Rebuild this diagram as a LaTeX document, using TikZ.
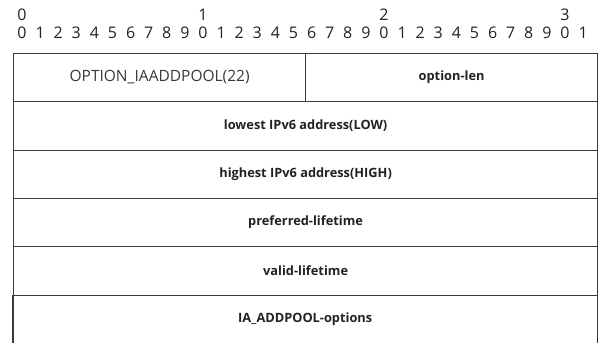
\documentclass[tikz,border=0pt]{standalone}
\usepackage{fontspec}
\setmainfont{Open Sans}
\definecolor{ink}{HTML}{222222}
\definecolor{rule}{HTML}{3A3A3A}
\begin{document}
\begin{tikzpicture}[x=1pt,y=-1pt,
  digit/.style={font=\fontsize{16}{16}\selectfont, text=ink, inner sep=0pt, anchor=center},
  field/.style={draw=rule, line width=1.2pt, inner sep=0pt, text=ink, font=\fontsize{12.8}{12.8}\selectfont\bfseries},
  plainfield/.style={field, font=\fontsize{15.5}{15.5}\selectfont, text=ink!90}]
\useasboundingbox (0,0) rectangle (604,343);
% bit ruler
\foreach \i/\d in {0/0,10/1,20/2,30/3}
  \node[digit] (t\i) at ({22+18.1*\i},15) {\d};
\foreach \i in {0,...,31}{
  \pgfmathtruncatemacro{\d}{mod(\i,10)}
  \node[digit] (b\i) at ({22+18.1*\i},33) {\d};
}
% fields
\node[plainfield, minimum width=292pt, minimum height=48pt, anchor=north west] (opt) at (13,53) {OPTION\_IAADDPOOL(22)};
\node[field, minimum width=292pt, minimum height=48pt, anchor=north west] (len) at (305,53) {option-len};
\node[field, minimum width=584pt, minimum height=49pt, anchor=north west] (low) at (13,101) {lowest IPv6 address(LOW)};
\node[field, minimum width=584pt, minimum height=48pt, anchor=north west] (high) at (13,150) {highest IPv6 address(HIGH)};
\node[field, minimum width=584pt, minimum height=48pt, anchor=north west] (pref) at (13,198) {preferred-lifetime};
\node[field, minimum width=584pt, minimum height=49pt, anchor=north west] (valid) at (13,246) {valid-lifetime};
\node[inner sep=0pt, minimum width=584pt, minimum height=48pt, anchor=north west, text=ink, font=\fontsize{12.8}{12.8}\selectfont\bfseries] (pool) at (13,295) {IA\_ADDPOOL-options};
\draw[draw=rule, line width=1.2pt] (pool.north west) -- (pool.south west);
\draw[draw=rule, line width=1.2pt] (pool.north east) -- (pool.south east);
\end{tikzpicture}
\end{document}
